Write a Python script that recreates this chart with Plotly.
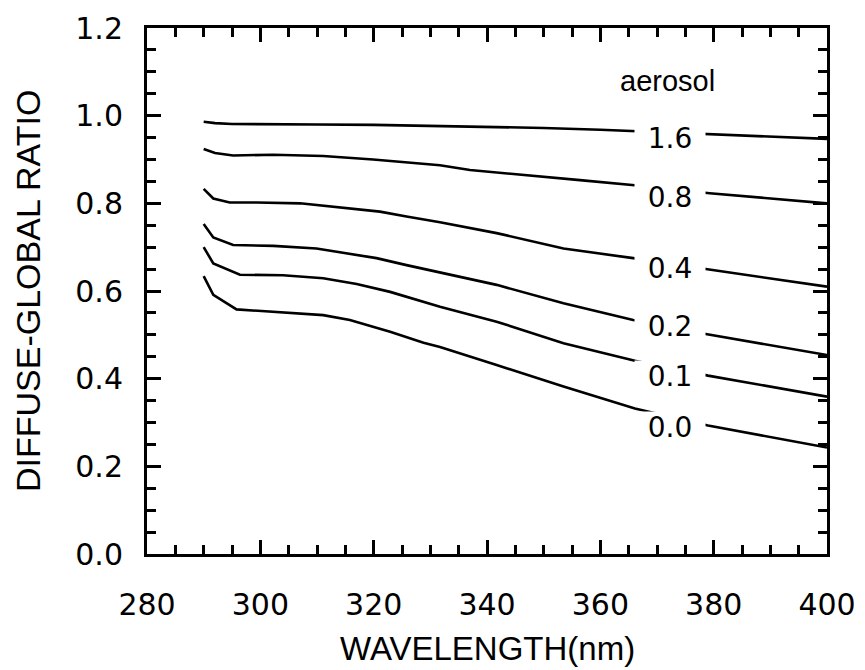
import numpy as np
import plotly.graph_objects as go

# ---- data ----
aerosol_labels = ["1.6", "0.8", "0.4", "0.2", "0.1", "0.0"]

wl_16 = [290, 292, 295, 300, 310, 320, 330, 340, 350, 360, 366, 379, 390, 400]
ratio_16 = [0.986, 0.983, 0.981, 0.981, 0.980, 0.979, 0.977, 0.975, 0.972, 0.968, 0.965, 0.958, 0.953, 0.947]

wl_08 = [290, 292, 295.2, 302.3, 311.1, 319.9, 331.7, 337, 356.4, 367, 379.3, 400]
ratio_08 = [0.924, 0.915, 0.909, 0.911, 0.908, 0.900, 0.887, 0.876, 0.853, 0.840, 0.823, 0.800]

wl_04 = [290, 291.7, 294.6, 299.4, 307, 314, 321.1, 325.8, 331.7, 341.7, 353.5, 365.8, 378.6, 400]
ratio_04 = [0.833, 0.811, 0.802, 0.802, 0.800, 0.791, 0.781, 0.770, 0.757, 0.732, 0.697, 0.675, 0.650, 0.610]

wl_02 = [290, 291.7, 295.2, 302.3, 309.9, 315.8, 320.5, 325.8, 331.7, 341.7, 353.5, 365.8, 378.6, 400]
ratio_02 = [0.753, 0.722, 0.705, 0.703, 0.697, 0.684, 0.675, 0.659, 0.642, 0.614, 0.572, 0.534, 0.502, 0.454]

wl_01 = [290, 291.7, 296.4, 304, 311.1, 317, 322.9, 328.8, 331.7, 341.7, 353.5, 366.1, 379, 400]
ratio_01 = [0.700, 0.663, 0.637, 0.636, 0.629, 0.616, 0.598, 0.576, 0.564, 0.530, 0.481, 0.441, 0.407, 0.359]

wl_00 = [290, 291.7, 295.8, 304, 311.1, 315.8, 322.9, 328.8, 331.7, 341.7, 353.5, 366.1, 379, 400]
ratio_00 = [0.634, 0.591, 0.558, 0.551, 0.545, 0.534, 0.507, 0.482, 0.472, 0.431, 0.382, 0.332, 0.293, 0.243]

x_ticks = [280, 300, 320, 340, 360, 380, 400]
y_ticks = [0.0, 0.2, 0.4, 0.6, 0.8, 1.0, 1.2]

series = [(wl_16, ratio_16), (wl_08, ratio_08), (wl_04, ratio_04),
          (wl_02, ratio_02), (wl_01, ratio_01), (wl_00, ratio_00)]

# annotation placement (layout, not data)
label_x = 372.3
label_y = [0.948, 0.815, 0.652, 0.521, 0.407, 0.290]

FONT = "Liberation Sans, Arial, Helvetica, sans-serif"
TICKFONT = "DejaVu Sans, Liberation Sans, sans-serif"
NARROW = "Liberation Sans Narrow, Arial Narrow, Liberation Sans, sans-serif"

fig = go.Figure()
for (wl, r), name in zip(series, aerosol_labels):
    fig.add_trace(go.Scatter(x=wl, y=r, mode="lines", name=name,
                             line=dict(color="black", width=2.6),
                             showlegend=False, hoverinfo="skip"))

for name, yv in zip(aerosol_labels, label_y):
    fig.add_annotation(x=label_x, y=yv, text=name, showarrow=False,
                       font=dict(family=TICKFONT, size=28, color="black"),
                       bgcolor="white", width=70, height=30, borderpad=0,
                       xanchor="center", yanchor="middle")

fig.add_annotation(x=371.9, y=1.078, text="aerosol", showarrow=False,
                   font=dict(family=FONT, size=29, color="black"),
                   xanchor="center", yanchor="middle")

# axis titles
fig.add_annotation(xref="paper", yref="paper", x=0.5, y=-0.179,
                   text="WAVELENGTH(nm)", showarrow=False,
                   font=dict(family=NARROW, size=33, color="black"),
                   xanchor="center", yanchor="middle")
fig.add_annotation(xref="paper", yref="paper", x=-0.1757, y=0.499,
                   text="DIFFUSE-GLOBAL RATIO", showarrow=False, textangle=-90,
                   font=dict(family=NARROW, size=34, color="black"),
                   xanchor="center", yanchor="middle")

axis_common = dict(
    showline=True, linecolor="black", linewidth=3, mirror="allticks",
    ticks="inside", ticklen=14, tickwidth=3, tickcolor="black",
    showgrid=False, zeroline=False, automargin=False,
)

fig.update_xaxes(range=[280, 400], tickvals=x_ticks,
                 ticktext=[str(v) for v in x_ticks],
                 tickfont=dict(family=TICKFONT, size=30, color="black"),
                 ticklabelstandoff=22,
                 minor=dict(dtick=5, ticks="inside", ticklen=9, tickwidth=3, tickcolor="black", showgrid=False),
                 **axis_common)
fig.update_yaxes(range=[0, 1.2], tickvals=y_ticks,
                 ticktext=[f"{v:.1f}" for v in y_ticks],
                 tickfont=dict(family=TICKFONT, size=30, color="black"),
                 ticklabelstandoff=15,
                 minor=dict(dtick=0.05, ticks="inside", ticklen=9, tickwidth=3, tickcolor="black", showgrid=False),
                 **axis_common)

# page body has an 8px margin: size the figure so the plot area lands where the reference has it
fig.update_layout(width=857, height=662, margin=dict(l=139, r=38, t=20, b=116),
                  plot_bgcolor="white", paper_bgcolor="white")

fig.write_html("out.html")
